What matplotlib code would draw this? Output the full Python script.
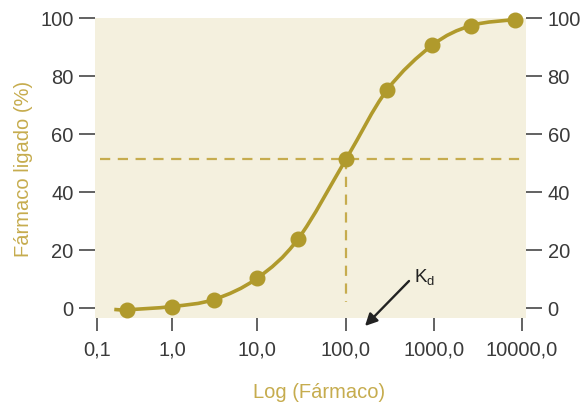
import numpy as np
import matplotlib
matplotlib.use("Agg")
import matplotlib.pyplot as plt
from matplotlib.path import Path
from matplotlib.patches import PathPatch
from matplotlib.ticker import FixedLocator, FixedFormatter

plt.rcParams['font.family'] = ['Liberation Sans', 'DejaVu Sans']
plt.rcParams['mathtext.default'] = 'regular'

# ---- data ----
drug_conc = [0.25, 1.0, 3.1, 10.0, 29.0, 100.0, 292.0, 950.0, 2630.0, 8300.0]
bound_pct = [-0.6, 0.5, 2.9, 10.2, 23.8, 51.2, 75.0, 90.4, 97.2, 99.3]
curve_start = (0.17, -0.5)
kd_value = 100.0
kd_bound = 51.2
kd_line_bottom = 2.2
x_ticks = [0.1, 1.0, 10.0, 100.0, 1000.0, 10000.0]
x_tick_labels = ['0,1', '1,0', '10,0', '100,0', '1000,0', '10000,0']
y_ticks = [0, 20, 40, 60, 80, 100]
y_tick_labels = ['0', '20', '40', '60', '80', '100']

# ---- style ----
GOLD = '#B09A2C'
GOLD_LIGHT = '#C6AC4E'
BG = '#F4F0DE'
TXT = '#3A3A3A'
FS = 14.5

# non-uniform decade spacing as drawn in the original figure
DEC = np.array([-1.0, 0.0, 1.0, 2.0, 3.0, 4.0])
POS = np.array([0.0, 75.0, 160.0, 249.0, 337.0, 425.0])


def fwd(x):
    x = np.asarray(x, dtype=float)
    l = np.log10(np.maximum(x, 1e-12))
    y = np.interp(l, DEC, POS)
    y = np.where(l < DEC[0], POS[0] + (l - DEC[0]) * (POS[1] - POS[0]), y)
    y = np.where(l > DEC[-1], POS[-1] + (l - DEC[-1]) * (POS[-1] - POS[-2]), y)
    return y


def inv(p):
    p = np.asarray(p, dtype=float)
    l = np.interp(p, POS, DEC)
    l = np.where(p < POS[0], DEC[0] + (p - POS[0]) / (POS[1] - POS[0]), l)
    l = np.where(p > POS[-1], DEC[-1] + (p - POS[-1]) / (POS[-1] - POS[-2]), l)
    return 10.0 ** l


W, H = 583, 406
fig = plt.figure(figsize=(W / 100, H / 100), dpi=100)
L, R, T, B = 95, 526, 18.5, 319
ax = fig.add_axes([L / W, 1 - B / H, (R - L) / W, (B - T) / H])
ax.set_facecolor(BG)
for s in ax.spines.values():
    s.set_visible(False)

ax.set_xscale('function', functions=(fwd, inv))
ax.set_xlim(inv(-2.0), inv(429.0))
ax.set_ylim(-3.45, 100)

# dashed Kd guides
ax.plot([inv(3.0), inv(429.0)], [kd_bound, kd_bound], color=GOLD_LIGHT, lw=1.6,
        linestyle=(0, (4.6, 3.4)), zorder=2)
ax.plot([kd_value, kd_value], [kd_bound, kd_line_bottom], color=GOLD_LIGHT, lw=1.6,
        linestyle=(0, (4.6, 3.4)), zorder=2)

# smooth curve through points (Catmull-Rom -> cubic Bezier in scale space)
cx = np.concatenate([[curve_start[0]], drug_conc])
cy = np.concatenate([[curve_start[1]], bound_pct])
px = fwd(cx)
P = np.column_stack([px, cy])
n = len(P)
verts = [P[0]]
codes = [Path.MOVETO]
for i in range(n - 1):
    p0 = P[i - 1] if i > 0 else P[i]
    p1 = P[i]
    p2 = P[i + 1]
    p3 = P[i + 2] if i + 2 < n else P[i + 1]
    c1 = p1 + (p2 - p0) / 6.0
    c2 = p2 - (p3 - p1) / 6.0
    verts += [c1, c2, p2]
    codes += [Path.CURVE4] * 3
verts = np.array(verts)
verts[:, 0] = inv(verts[:, 0])
ax.add_patch(PathPatch(Path(verts, codes), fill=False, edgecolor=GOLD, lw=2.6,
                       zorder=3, clip_on=False))

ax.plot(drug_conc, bound_pct, linestyle='none', marker='o', ms=10.5, color=GOLD,
        zorder=4, clip_on=False)

# ticks
ax.xaxis.set_major_locator(FixedLocator(x_ticks))
ax.xaxis.set_major_formatter(FixedFormatter(x_tick_labels))
ax.xaxis.set_minor_locator(FixedLocator([]))
ax.yaxis.set_major_locator(FixedLocator(y_ticks))
ax.yaxis.set_major_formatter(FixedFormatter(y_tick_labels))
ax.tick_params(axis='x', direction='out', length=9.5, width=1.3, color='#555555',
               labelsize=FS, labelcolor=TXT, pad=6)
ax.tick_params(axis='y', direction='out', length=11.5, width=1.3, color='#555555',
               labelsize=FS, labelcolor=TXT, left=True, right=True,
               labelleft=True, labelright=True, pad=5)
ax.tick_params(axis='y', which='major', right=True)
for t in ax.yaxis.get_major_ticks():
    t.label2.set_x(1.0)
ax.yaxis.set_tick_params(which='major', pad=4)

ax.set_ylabel('Fármaco ligado (%)', color=GOLD_LIGHT, fontsize=FS, va='center')
ax.yaxis.set_label_coords(-0.167, 0.50)
ax.set_xlabel('Log (Fármaco)', color=GOLD_LIGHT, fontsize=FS, va='center')
ax.xaxis.set_label_coords(0.52, -0.243)

# Kd annotation
ax.annotate('', xy=(365, H - 327), xycoords='figure pixels',
            xytext=(409, H - 282), textcoords='figure pixels',
            arrowprops=dict(arrowstyle='-|>', mutation_scale=18, lw=1.7,
                            color='#222222', shrinkA=0, shrinkB=0),
            annotation_clip=False)
fig.text(414 / W, 1 - 282 / H, r'K$_d$', fontsize=13.5, color='#222222',
         ha='left', va='baseline')

fig.savefig('out.png', dpi=100, facecolor='white')
